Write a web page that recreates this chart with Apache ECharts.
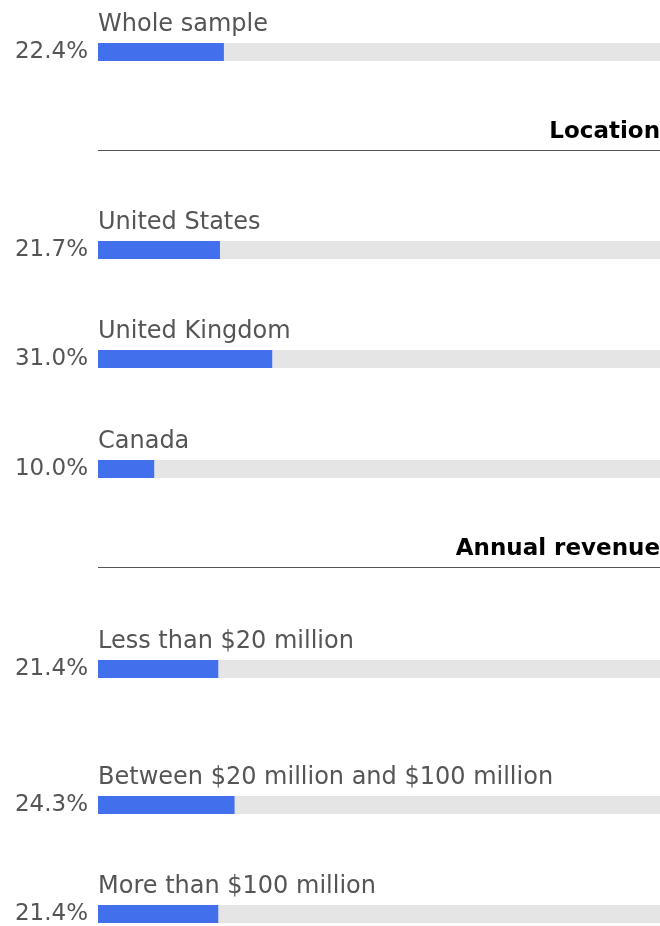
<!DOCTYPE html>
<html>
<head>
<meta charset="utf-8">
<script src="https://cdn.jsdelivr.net/npm/echarts@6/dist/echarts.min.js"></script>
<style>
html, body { margin: 0; padding: 0; background: #fff; }
#chart { width: 660px; height: 926px; }
</style>
</head>
<body>
<div id="chart"></div>
<script>
var categories = ['Whole sample', 'United States', 'United Kingdom', 'Canada',
    'Less than $20 million', 'Between $20 million and $100 million', 'More than $100 million'];
var shares = [22.4, 21.7, 31.0, 10.0, 21.4, 24.3, 21.4];
var sections = ['Location', 'Annual revenue'];

// layout: vertical centre of each bar, and of each section heading
var barCentres = [52, 250, 359, 469, 669, 805, 914];
var sectionCentres = [131, 548];

var FONT = '"DejaVu Sans", sans-serif';
var BAR_H = 18;

var grids = [], xAxes = [], yAxes = [], series = [];
categories.forEach(function (name, i) {
    grids.push({left: 98, right: 0, top: barCentres[i] - BAR_H / 2, height: BAR_H});
    xAxes.push({
        type: 'value', gridIndex: i, min: 0, max: 100, show: false
    });
    yAxes.push({
        type: 'category', gridIndex: i, data: [name],
        axisLine: {show: false}, axisTick: {show: false}, splitLine: {show: false},
        axisLabel: {
            margin: 10,
            color: '#555',
            fontFamily: FONT,
            fontSize: 23,
            formatter: function () { return shares[i].toFixed(1) + '%'; }
        }
    });
    series.push({
        type: 'bar',
        xAxisIndex: i,
        yAxisIndex: i,
        data: [shares[i]],
        barWidth: BAR_H,
        showBackground: true,
        backgroundStyle: {color: '#e5e5e5'},
        itemStyle: {color: '#4270ed'},
        silent: true,
        label: {
            show: true,
            position: [0, -18],
            align: 'left',
            verticalAlign: 'middle',
            color: '#555',
            fontFamily: FONT,
            fontSize: 24,
            formatter: name
        }
    });
});

var graphics = [];
sections.forEach(function (title, i) {
    graphics.push({
        type: 'text',
        right: 0,
        top: sectionCentres[i] - 10,
        style: {
            text: title,
            fill: '#000',
            font: 'bold 23px ' + FONT
        }
    });
    graphics.push({
        type: 'line',
        shape: {x1: 98, y1: sectionCentres[i] + 19.5, x2: 660, y2: sectionCentres[i] + 19.5},
        style: {stroke: '#555', lineWidth: 1}
    });
});

echarts.init(document.getElementById('chart')).setOption({
    animation: false,
    grid: grids,
    xAxis: xAxes,
    yAxis: yAxes,
    series: series,
    graphic: graphics
});
</script>
</body>
</html>
